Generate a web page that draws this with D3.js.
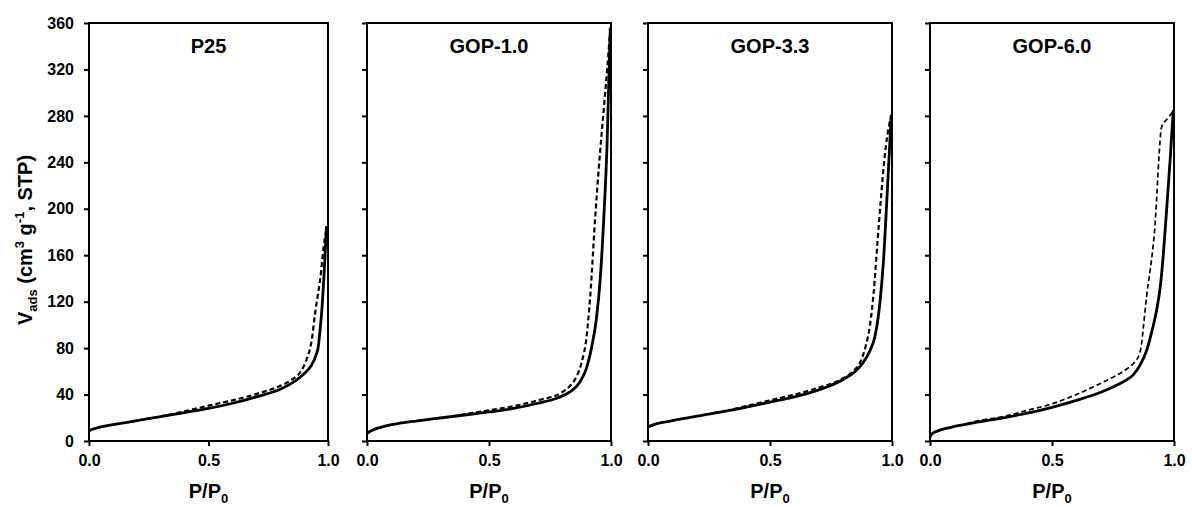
<!DOCTYPE html>
<html>
<head>
<meta charset="utf-8">
<script src="https://cdn.jsdelivr.net/npm/d3@7"></script>
<style>
  body { margin: 0; background: #fff; }
  text { font-family: "Liberation Sans", Arial, sans-serif; font-weight: bold; fill: #000; }
</style>
</head>
<body>
<div id="chart"></div>
<script>
(function () {
  "use strict";

  // panel titles
  const samples = ["P25", "GOP-1.0", "GOP-3.3", "GOP-6.0"];
  const xTicks = [0, 0.5, 1.0];
  const yTicks = [0, 40, 80, 120, 160, 200, 240, 280, 320, 360];

  // [P/P0, Vads] - adsorption (solid) and desorption (dashed)
  const p25Ads = [[0, 8.5], [0.01, 9.8], [0.03, 11], [0.06, 12.5], [0.1, 14], [0.2, 17.5], [0.3, 21], [0.4, 24.5], [0.5, 28], [0.6, 32.5], [0.7, 38], [0.8, 44.5], [0.85, 50], [0.9, 58], [0.93, 65], [0.95, 74], [0.96, 82], [0.965, 92], [0.974, 112], [0.984, 145], [0.994, 185]];
  const p25Des = [[0.3, 21.3], [0.4, 25.5], [0.5, 30.5], [0.6, 35], [0.7, 40.5], [0.8, 47.5], [0.85, 53], [0.883, 59], [0.91, 70], [0.932, 87], [0.946, 110], [0.967, 139], [0.987, 175], [0.994, 183]];

  const gop10Ads = [[0, 6.5], [0.01, 8], [0.03, 10], [0.06, 12], [0.1, 14], [0.15, 15.8], [0.2, 17.2], [0.3, 19.8], [0.4, 22.4], [0.5, 25], [0.6, 28], [0.7, 32.5], [0.78, 37], [0.83, 42], [0.87, 50], [0.9, 63], [0.92, 80], [0.94, 105], [0.956, 140], [0.97, 190], [0.984, 256], [0.997, 356]];
  const gop10Des = [[0.35, 21.3], [0.4, 23], [0.5, 26.5], [0.6, 30], [0.7, 35], [0.8, 42], [0.83, 47], [0.86, 56], [0.88, 68], [0.9, 90], [0.915, 125], [0.936, 195], [0.95, 235], [0.97, 285], [0.985, 322], [0.997, 354]];

  const gop33Ads = [[0, 12], [0.01, 13], [0.03, 14.5], [0.06, 16], [0.1, 17.5], [0.2, 21.5], [0.3, 25], [0.4, 29], [0.5, 33.5], [0.6, 38], [0.7, 44], [0.8, 53], [0.85, 60], [0.88, 67], [0.91, 78], [0.93, 90], [0.95, 118], [0.965, 155], [0.98, 212], [0.997, 281]];
  const gop33Des = [[0.35, 27.5], [0.4, 30], [0.5, 35], [0.6, 40], [0.7, 46], [0.8, 54], [0.84, 60], [0.87, 68], [0.89, 80], [0.91, 100], [0.925, 128], [0.94, 170], [0.955, 210], [0.97, 245], [0.99, 274], [0.997, 280]];

  const gop60Ads = [[0, 3], [0.004, 5], [0.01, 6.5], [0.03, 8.5], [0.07, 11], [0.1, 12.5], [0.2, 16.5], [0.3, 20], [0.4, 24], [0.5, 29], [0.6, 35], [0.7, 42], [0.75, 46.5], [0.8, 52], [0.833, 57], [0.86, 65], [0.888, 78], [0.91, 95], [0.929, 113], [0.945, 135], [0.956, 160], [0.97, 200], [0.985, 245], [0.997, 285]];
  const gop60Des = [[0.15, 15], [0.2, 17.5], [0.3, 21], [0.41, 27], [0.5, 32], [0.546, 35.5], [0.6, 40], [0.683, 48], [0.75, 55], [0.806, 62], [0.83, 66], [0.86, 76], [0.888, 125], [0.92, 180], [0.95, 271], [0.975, 278], [0.997, 284]];

  const adsSeries = [p25Ads, gop10Ads, gop33Ads, gop60Ads];
  const desSeries = [p25Des, gop10Des, gop33Des, gop60Des];

  // layout
  const width = 1192;
  const height = 507;
  const panelLeft = [89, 367, 648, 930];
  const panelWidth = [239, 244, 244, 244];
  const top = 23;
  const bottom = 441;

  const svg = d3
    .select("#chart")
    .append("svg")
    .attr("width", width)
    .attr("height", height);

  svg.append("rect").attr("width", width).attr("height", height).attr("fill", "#fff");

  const y = d3.scaleLinear().domain([0, 360]).range([bottom, top]);

  samples.forEach((name, i) => {
    const x = d3
      .scaleLinear()
      .domain([0, 1])
      .range([panelLeft[i], panelLeft[i] + panelWidth[i]]);

    const g = svg.append("g");

    // y axis (labels only on the first panel)
    const yAxis = d3
      .axisLeft(y)
      .tickValues(yTicks)
      .tickSize(5)
      .tickSizeOuter(0)
      .tickPadding(10)
      .tickFormat(i === 0 ? d3.format("d") : () => "");
    const ya = g.append("g").attr("transform", `translate(${panelLeft[i]},0)`).call(yAxis);
    ya.select(".domain").remove();
    ya.selectAll("line").attr("stroke", "#000").attr("stroke-width", 2);
    ya.selectAll("text").style("font-size", "16px").attr("fill", "#000");

    // x axis
    const xAxis = d3
      .axisBottom(x)
      .tickValues(xTicks)
      .tickSize(5)
      .tickSizeOuter(0)
      .tickPadding(9)
      .tickFormat(d3.format(".1f"));
    const xa = g.append("g").attr("transform", `translate(0,${bottom})`).call(xAxis);
    xa.select(".domain").remove();
    xa.selectAll("line").attr("stroke", "#000").attr("stroke-width", 2);
    xa.selectAll("text").style("font-size", "16px").attr("fill", "#000");

    // frame
    g.append("rect")
      .attr("x", x(0))
      .attr("y", y(360))
      .attr("width", x(1) - x(0))
      .attr("height", y(0) - y(360))
      .attr("fill", "none")
      .attr("stroke", "#000")
      .attr("stroke-width", 2);

    const line = d3
      .line()
      .x((d) => x(d[0]))
      .y((d) => y(d[1]))
      .curve(d3.curveMonotoneX);

    g.append("path")
      .attr("d", line(desSeries[i]))
      .attr("fill", "none")
      .attr("stroke", "#000")
      .attr("stroke-width", i === 3 ? 1.7 : 2.2)
      .attr("stroke-dasharray", "5,3");

    g.append("path")
      .attr("d", line(adsSeries[i]))
      .attr("fill", "none")
      .attr("stroke", "#000")
      .attr("stroke-width", 2.8)
      .attr("stroke-linejoin", "round");

    // title
    g.append("text")
      .attr("x", (x(0) + x(1)) / 2)
      .attr("y", 53)
      .attr("text-anchor", "middle")
      .style("font-size", "20px")
      .text(name);

    // x axis label P/P0
    const xl = g.append("text")
      .attr("x", (x(0) + x(1)) / 2)
      .attr("y", 498)
      .attr("text-anchor", "middle")
      .style("font-size", "20px");
    xl.append("tspan").text("P/P");
    xl.append("tspan").attr("dy", 5).style("font-size", "13px").text("0");
  });

  // y axis label
  const yl = svg.append("text")
    .attr("transform", "translate(32,240) rotate(-90)")
    .attr("text-anchor", "middle")
    .style("font-size", "20px");
  yl.append("tspan").text("V");
  yl.append("tspan").attr("dy", 5).style("font-size", "13px").text("ads");
  yl.append("tspan").attr("dy", -5).text(" (cm");
  yl.append("tspan").attr("dy", -8).style("font-size", "13px").text("3");
  yl.append("tspan").attr("dy", 8).text(" g");
  yl.append("tspan").attr("dy", -8).style("font-size", "13px").text("-1");
  yl.append("tspan").attr("dy", 8).text(", STP)");
})();
</script>
</body>
</html>
